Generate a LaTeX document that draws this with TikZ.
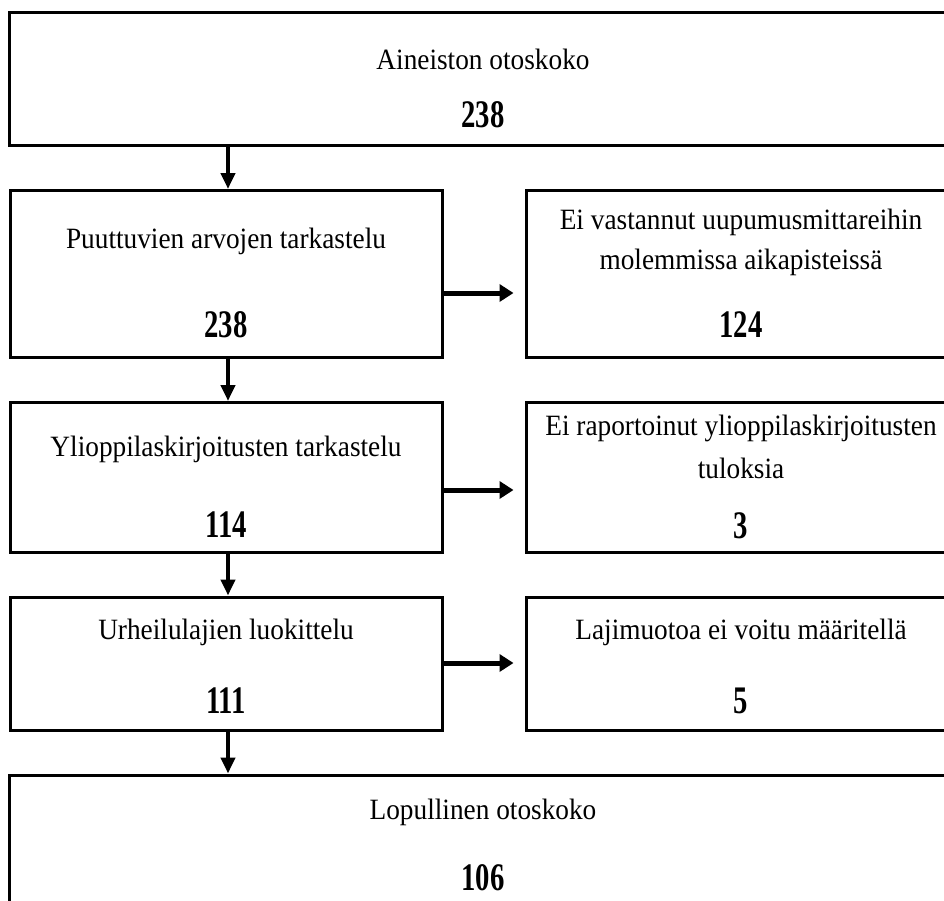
\documentclass[tikz,border=0pt]{standalone}
\usepackage{fontspec}
\setmainfont{Liberation Serif}
\usetikzlibrary{arrows.meta}
\newcommand{\tl}[1]{\scalebox{1}[1.08]{#1}}
\newcommand{\nm}[1]{\scalebox{1}[1.36]{\bfseries #1}}
\tikzset{
  box/.style={draw=black, line width=3pt, fill=white, inner sep=0pt},
  txt/.style={font=\fontsize{27.3}{36}\selectfont, inner sep=0pt, align=center},
  num/.style={font=\fontsize{28.7}{36}\selectfont, inner sep=0pt},
  varrow/.style={line width=4pt, -{Triangle[length=16pt,width=14pt]}},
  harrow/.style={line width=5pt, -{Triangle[length=14pt,width=17pt]}, shorten >=11pt}
}
\begin{document}
\begin{tikzpicture}[x=1pt,y=-1pt]
\useasboundingbox (0,0) rectangle (944,900);
\fill[white] (0,0) rectangle (944,900);
\clip (0,0) rectangle (944,900);
% boxes
\node[box, minimum width=949pt, minimum height=133pt] (b1) at (483.5,79) {};
\node[box, minimum width=432pt, minimum height=167pt] (b2) at (226,274) {};
\node[box, minimum width=431pt, minimum height=167pt] (r2) at (741.5,274) {};
\node[box, minimum width=432pt, minimum height=150pt] (b3) at (226,477.5) {};
\node[box, minimum width=431pt, minimum height=150pt] (r3) at (741.5,477.5) {};
\node[box, minimum width=432pt, minimum height=133pt] (b4) at (226,663.5) {};
\node[box, minimum width=431pt, minimum height=133pt] (r4) at (741.5,663.5) {};
\node[box, minimum width=949pt, minimum height=133pt] (b5) at (483.5,841.5) {};
% texts
\node[txt] (t1) at (483,59) {\tl{Aineiston otoskoko}};
\node[num] (n1) at (483,115) {\nm{238}};
\node[txt] (t2) at (226,241) {\tl{Puuttuvien arvojen tarkastelu}};
\node[num] (n2) at (226,325) {\nm{238}};
\node[txt] (s2a) at (741,222) {\tl{Ei vastannut uupumusmittareihin}};
\node[txt] (s2b) at (741,262) {\tl{molemmissa aikapisteissä}};
\node[num] (m2) at (741,325) {\nm{124}};
\node[txt] (t3) at (226,449) {\tl{Ylioppilaskirjoitusten tarkastelu}};
\node[num] (n3) at (226,525) {\nm{114}};
\node[txt] (s3a) at (741,428) {\tl{Ei raportoinut ylioppilaskirjoitusten}};
\node[txt] (s3b) at (741,468) {\tl{tuloksia}};
\node[num] (m3) at (741,526) {\nm{3}};
\node[txt] (t4) at (226,632) {\tl{Urheilulajien luokittelu}};
\node[txt] (s4a) at (741,632) {\tl{Lajimuotoa ei voitu määritellä}};
\node[num] (n4) at (226,701) {\nm{111}};
\node[num] (m4) at (741,701) {\nm{5}};
\node[txt] (t5) at (483,812) {\tl{Lopullinen otoskoko}};
\node[num] (n5) at (483,878) {\nm{106}};
% connector helpers
\coordinate (ax) at (228,0);
\coordinate (h2) at (0,293);
\coordinate (h3) at (0,490);
\coordinate (h4) at (0,663);
% vertical arrows
\draw[varrow] (b1.south -| ax) -- (b2.north -| ax);
\draw[varrow] (b2.south -| ax) -- (b3.north -| ax);
\draw[varrow] (b3.south -| ax) -- (b4.north -| ax);
\draw[varrow] (b4.south -| ax) -- (b5.north -| ax);
% horizontal arrows
\draw[harrow] (b2.east |- h2) -- (r2.west |- h2);
\draw[harrow] (b3.east |- h3) -- (r3.west |- h3);
\draw[harrow] (b4.east |- h4) -- (r4.west |- h4);
\end{tikzpicture}
\end{document}
